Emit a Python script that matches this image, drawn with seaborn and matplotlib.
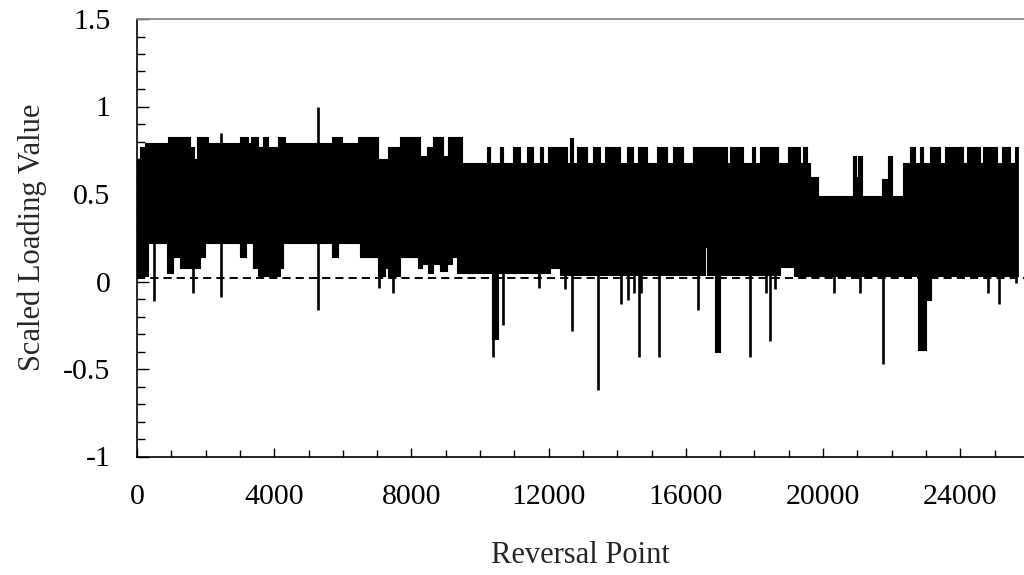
import matplotlib
matplotlib.use("Agg")
import matplotlib.pyplot as plt
import numpy as np
import pandas as pd
import seaborn as sns
from matplotlib.ticker import MultipleLocator

# Upper envelope of the loading history (step breakpoints: reversal index, value)
upper_x = [0, 90, 230, 900, 1550, 1660, 1750, 2070, 3000, 3240,
           3320, 3530, 3670, 3820, 4110, 4310, 5680, 5980, 6440, 7030,
           7320, 7670, 8250, 8450, 8630, 8920, 9070, 9470, 10200, 10290,
           10580, 10670, 10960, 11160, 11370, 11540, 11750, 11840, 11980, 12530,
           12620, 12710, 12830, 13120, 13290, 13500, 13640, 14080, 14280, 14460,
           14600, 14870, 15160, 15450, 15620, 15920, 16210, 17200, 17290, 17670,
           17930, 18010, 18160, 18690, 18980, 19330, 19410, 19530, 19620, 19850,
           20870, 20960, 21020, 21130, 21720, 21860, 21890, 22010, 22330, 22530,
           22680, 22820, 22910, 23120, 23410, 23550, 24080, 24190, 24570, 24660,
           25070, 25220, 25450, 25590]
upper_v = [0.70, 0.77, 0.79, 0.825, 0.77, 0.70, 0.825, 0.79, 0.825, 0.79,
           0.825, 0.77, 0.825, 0.77, 0.825, 0.79, 0.825, 0.79, 0.825, 0.70,
           0.77, 0.825, 0.72, 0.77, 0.825, 0.72, 0.825, 0.68, 0.77, 0.68,
           0.77, 0.68, 0.77, 0.68, 0.77, 0.68, 0.77, 0.68, 0.77, 0.68,
           0.82, 0.68, 0.77, 0.68, 0.77, 0.68, 0.77, 0.68, 0.77, 0.68,
           0.77, 0.68, 0.77, 0.68, 0.77, 0.68, 0.77, 0.68, 0.77, 0.68,
           0.77, 0.68, 0.77, 0.68, 0.77, 0.68, 0.77, 0.68, 0.60, 0.49,
           0.72, 0.60, 0.72, 0.49, 0.585, 0.49, 0.72, 0.49, 0.68, 0.77,
           0.68, 0.77, 0.68, 0.77, 0.68, 0.77, 0.68, 0.77, 0.68, 0.77,
           0.68, 0.77, 0.68, 0.77]

# Lower envelope of the loading history
lower_x = [0, 320, 870, 1050, 1250, 1840, 1980, 3000, 3180, 3380,
           3530, 4170, 4260, 5680, 5860, 6500, 7030, 7230, 7320, 7670,
           8190, 8310, 8480, 8630, 8830, 9040, 9120, 9150, 9180, 9330,
           10340, 10530, 11190, 11220, 12040, 12330, 13500, 13530, 13640, 13670,
           13820, 13850, 14460, 14490, 14750, 14780, 15010, 15040, 15360, 15390,
           15830, 15860, 16240, 16270, 16560, 16620, 16700, 16730, 16850, 17000,
           18740, 19120, 19150, 22760, 23000, 23140, 23700, 23730, 24080, 24110,
           25450, 25480]
lower_v = [0.03, 0.22, 0.05, 0.14, 0.08, 0.14, 0.22, 0.14, 0.22, 0.08,
           0.03, 0.08, 0.22, 0.14, 0.22, 0.14, 0.03, 0.08, 0.03, 0.14,
           0.08, 0.10, 0.05, 0.10, 0.06, 0.10, 0.22, 0.10, 0.14, 0.05,
           -0.33, 0.05, 0.22, 0.05, 0.08, 0.04, 0.22, 0.04, 0.22, 0.04,
           0.22, 0.04, 0.22, 0.04, 0.22, 0.04, 0.18, 0.04, 0.20, 0.04,
           0.18, 0.04, 0.22, 0.04, 0.20, 0.04, 0.22, 0.04, -0.40, 0.04,
           0.085, 0.22, 0.03, -0.39, -0.105, 0.03, 0.22, 0.03, 0.22, 0.03,
           0.20, 0.03]

last_reversal = 25680

# Isolated extreme reversals reaching beyond the band
spike_x = [500, 1640, 2450, 2450, 5290, 5290, 7060, 7470, 10390, 10680,
           11730, 12480, 12690, 13450, 14110, 14320, 14500, 14630, 14700, 15230,
           16360, 17870, 18330, 18450, 18610, 20320, 21080, 21760, 24820, 25130,
           25640]
spike_v = [-0.11, -0.065, -0.09, 0.85, -0.16, 1.0, -0.035, -0.065, -0.43, -0.25,
           -0.035, -0.04, -0.28, -0.62, -0.13, -0.105, -0.065, -0.43, -0.065, -0.43,
           -0.165, -0.43, -0.065, -0.34, -0.04, -0.065, -0.065, -0.47, -0.065, -0.13,
           -0.01]

reference_level = 0.02

x_major = [0, 4000, 8000, 12000, 16000, 20000, 24000]
y_major = [-1, -0.5, 0, 0.5, 1, 1.5]
y_labels = ["-1", "-0.5", "0", "0.5", "1", "1.5"]

sns.set_theme(style="ticks")
plt.rcParams["font.family"] = ["Liberation Serif", "DejaVu Serif"]
plt.rcParams["mathtext.fontset"] = "stix"

fig = plt.figure(figsize=(10.24, 5.75), dpi=100)
ax = fig.add_axes([137 / 1024, 118.5 / 575, (1024 - 137) / 1024, 437.5 / 575])

# Combine both envelopes on a common set of breakpoints
grid = sorted(set(upper_x) | set(lower_x) | {last_reversal})
up = pd.Series(upper_v, index=upper_x).reindex(grid, method="ffill")
lo = pd.Series(lower_v, index=lower_x).reindex(grid, method="ffill")
env = pd.DataFrame({"reversal": grid, "upper": up.values, "lower": lo.values})

ax.fill_between(env["reversal"], env["lower"], env["upper"], step="post",
                color="black", linewidth=0.6, edgecolor="black", zorder=3)
sns.lineplot(data=env, x="reversal", y="upper", drawstyle="steps-post",
             color="black", linewidth=0.8, estimator=None, ax=ax, zorder=3)
sns.lineplot(data=env, x="reversal", y="lower", drawstyle="steps-post",
             color="black", linewidth=0.8, estimator=None, ax=ax, zorder=3)

ax.vlines(spike_x, 0.3, spike_v, color="black", linewidth=1.9, zorder=3)

ax.axhline(reference_level, color="black", linewidth=1.4,
           linestyle=(0, (4.2, 2.6)), zorder=2)

ax.set_xlim(0, 25860)
ax.set_ylim(-1, 1.5)
ax.set_xticks(x_major)
ax.set_xticklabels([str(v) for v in x_major])
ax.set_yticks(y_major)
ax.set_yticklabels(y_labels)
ax.xaxis.set_minor_locator(MultipleLocator(1000))
ax.yaxis.set_minor_locator(MultipleLocator(0.1))

ax.tick_params(axis="both", which="both", direction="in", colors="black",
               labelsize=21.5, width=1.0)
ax.tick_params(axis="x", which="major", length=6.5, pad=20)
ax.tick_params(axis="x", which="minor", length=5)
ax.tick_params(axis="y", which="major", length=8.5, pad=19)
ax.tick_params(axis="y", which="minor", length=5.5)
ax.tick_params(top=False, right=False, which="both")

for side in ("left", "bottom"):
    ax.spines[side].set_color("black")
    ax.spines[side].set_linewidth(1.2)
ax.spines["top"].set_color("#8a8a8a")
ax.spines["top"].set_linewidth(1.3)
ax.spines["right"].set_visible(False)

ax.set_xlabel("Reversal Point", fontsize=22, labelpad=22)
ax.set_ylabel("Scaled Loading Value", fontsize=22, labelpad=12)
ax.grid(False)

fig.savefig("out.png", dpi=100, facecolor="white")
